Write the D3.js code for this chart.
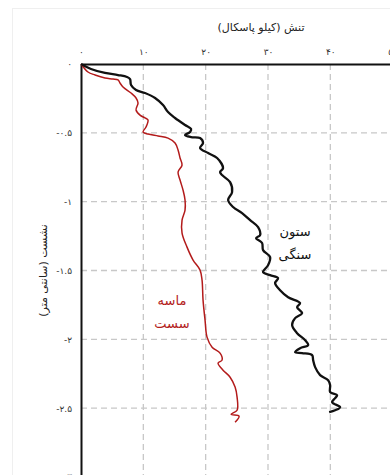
<!DOCTYPE html>
<html>
<head>
<meta charset="utf-8">
<script src="https://cdn.jsdelivr.net/npm/d3@7"></script>
<style>
  body { margin: 0; background: #fff; }
  text { font-family: "DejaVu Sans", sans-serif; }
</style>
</head>
<body>
<div id="chart"></div>
<script>
// Stone column curve (stress in kPa, settlement in cm)
const stoneStress = [0, 1.6, 3.85, 5.94, 7.38, 7.87, 8.03, 8.83, 10.27, 11.88, 13.16, 13.96, 15.09, 16.69, 17.66, 17.5, 16.69, 17.66, 19.1, 19.58, 19.1, 20.39, 21.83, 22.79, 22.31, 22.63, 23.92, 24.24, 23.6, 24.4, 25.84, 27.13, 28.41, 28.73, 28.09, 29.05, 29.21, 30.34, 30.02, 29.21, 30.34, 31.62, 31.14, 31.94, 33.23, 35.15, 34.67, 35.47, 34.35, 33.87, 34.67, 35.96, 36.44, 35.15, 34.35, 35.47, 37.08, 37.24, 37.56, 38.36, 39.65, 39.97, 39.97, 41.09, 40.77, 40.29, 41.57, 40.77, 39.81];
const stoneDepth = [0, -0.036, -0.065, -0.08, -0.094, -0.109, -0.153, -0.189, -0.211, -0.247, -0.298, -0.349, -0.392, -0.443, -0.472, -0.494, -0.516, -0.531, -0.538, -0.574, -0.61, -0.647, -0.683, -0.756, -0.785, -0.807, -0.858, -0.93, -0.988, -1.039, -1.083, -1.134, -1.185, -1.243, -1.265, -1.30, -1.352, -1.403, -1.461, -1.512, -1.534, -1.555, -1.592, -1.643, -1.694, -1.737, -1.766, -1.81, -1.846, -1.897, -1.955, -2.006, -2.042, -2.064, -2.093, -2.1, -2.115, -2.151, -2.202, -2.26, -2.297, -2.333, -2.384, -2.406, -2.427, -2.457, -2.493, -2.515, -2.529];

// Loose sand curve
const sandStress = [0, 1.12, 2.25, 3.85, 5.14, 5.94, 6.26, 6.74, 8.03, 8.83, 9.15, 8.83, 9.47, 10.27, 10.75, 10.43, 9.95, 10.75, 12.36, 13.96, 15.09, 15.57, 15.89, 16.21, 15.57, 15.89, 16.37, 16.69, 16.69, 16.21, 16.21, 17.01, 17.98, 19.1, 19.42, 19.58, 19.9, 20.22, 21.03, 22.31, 22.63, 21.99, 22.79, 23.92, 24.72, 25.04, 25.04, 24.08, 25.36, 24.72];
const sandDepth = [0, -0.058, -0.08, -0.102, -0.109, -0.116, -0.138, -0.167, -0.211, -0.247, -0.283, -0.334, -0.371, -0.392, -0.407, -0.458, -0.494, -0.509, -0.523, -0.538, -0.574, -0.625, -0.683, -0.734, -0.785, -0.843, -0.916, -0.988, -1.061, -1.134, -1.228, -1.33, -1.424, -1.497, -1.57, -1.715, -1.86, -1.984, -2.057, -2.1, -2.151, -2.173, -2.224, -2.275, -2.347, -2.42, -2.515, -2.544, -2.558, -2.602];

const xTicks = [0, 10, 20, 30, 40, 50];
const yTicks = [0, -0.5, -1, -1.5, -2, -2.5, -3];

const persianDigits = "۰۱۲۳۴۵۶۷۸۹";
function toPersian(v) {
  return String(v).replace(/\d/g, c => persianDigits[+c]);
}

const totalWidth = 390, totalHeight = 475;
const margin = { top: 64, left: 81 };
const width = 374, height = 413;

const svg = d3.select("#chart")
  .append("svg")
  .attr("width", totalWidth)
  .attr("height", totalHeight);

// faint frame
svg.append("rect")
  .attr("x", 12.5).attr("y", 8.5)
  .attr("width", 420).attr("height", 500)
  .attr("fill", "none")
  .attr("stroke", "#efefef");

const g = svg.append("g")
  .attr("transform", "translate(" + margin.left + "," + margin.top + ")");

const x = d3.scaleLinear().domain([0, 60]).range([0, width]);
const y = d3.scaleLinear().domain([0, -3]).range([0, height]);

// grid
g.append("g")
  .selectAll("line")
  .data(xTicks.filter(d => d > 0))
  .enter()
  .append("line")
  .attr("x1", d => x(d)).attr("x2", d => x(d))
  .attr("y1", 0).attr("y2", height)
  .attr("stroke", "#c8c8c8")
  .attr("stroke-width", 1.3)
  .attr("stroke-dasharray", "6,4");

g.append("g")
  .selectAll("line")
  .data(yTicks.filter(d => d < 0 && d > -3))
  .enter()
  .append("line")
  .attr("x1", 0).attr("x2", width)
  .attr("y1", d => y(d)).attr("y2", d => y(d))
  .attr("stroke", "#c8c8c8")
  .attr("stroke-width", 1.3)
  .attr("stroke-dasharray", "6,4");

// X axis on top
const xAxis = g.append("g")
  .call(d3.axisTop(x).tickValues(xTicks).tickSize(0).tickPadding(9).tickFormat(toPersian));
xAxis.select(".domain").attr("stroke", "#111").attr("stroke-width", 2);
xAxis.selectAll("text").style("font-size", "9px").attr("fill", "#333");

// Y axis on left
const yAxis = g.append("g")
  .call(d3.axisLeft(y).tickValues(yTicks).tickSize(0).tickPadding(9).tickFormat(toPersian));
yAxis.select(".domain").attr("stroke", "#111").attr("stroke-width", 2);
yAxis.selectAll("text").style("font-size", "9px").attr("fill", "#333");

const line = d3.line()
  .x(d => x(d[0]))
  .y(d => y(d[1]))
  .curve(d3.curveCatmullRom.alpha(0.5));

// Loose sand
g.append("path")
  .datum(sandStress.map((s, i) => [s, sandDepth[i]]))
  .attr("d", line)
  .attr("fill", "none")
  .attr("stroke", "#b31b1b")
  .attr("stroke-width", 1.5);

// Stone column
g.append("path")
  .datum(stoneStress.map((s, i) => [s, stoneDepth[i]]))
  .attr("d", line)
  .attr("fill", "none")
  .attr("stroke", "#111")
  .attr("stroke-width", 2.3);

// X axis title
svg.append("text")
  .attr("x", margin.left + 180)
  .attr("y", 31)
  .attr("text-anchor", "middle")
  .style("font-size", "11px")
  .attr("fill", "#222")
  .text("تنش (کیلو پاسکال)");

// Y axis title
svg.append("text")
  .attr("transform", "translate(43," + (margin.top + height / 2) + ") rotate(-90)")
  .attr("text-anchor", "middle")
  .attr("dy", "0.35em")
  .style("font-size", "11px")
  .attr("fill", "#222")
  .text("نشست (سانتی متر)");

// series labels
svg.append("text")
  .attr("x", 295).attr("y", 236)
  .attr("text-anchor", "middle")
  .style("font-size", "13px")
  .attr("fill", "#111")
  .text("ستون");
svg.append("text")
  .attr("x", 295).attr("y", 259)
  .attr("text-anchor", "middle")
  .style("font-size", "13px")
  .attr("fill", "#111")
  .text("سنگی");

svg.append("text")
  .attr("x", 172).attr("y", 305)
  .attr("text-anchor", "middle")
  .style("font-size", "13px")
  .attr("fill", "#b31b1b")
  .text("ماسه");
svg.append("text")
  .attr("x", 172).attr("y", 328)
  .attr("text-anchor", "middle")
  .style("font-size", "13px")
  .attr("fill", "#b31b1b")
  .text("سست");
</script>
</body>
</html>
